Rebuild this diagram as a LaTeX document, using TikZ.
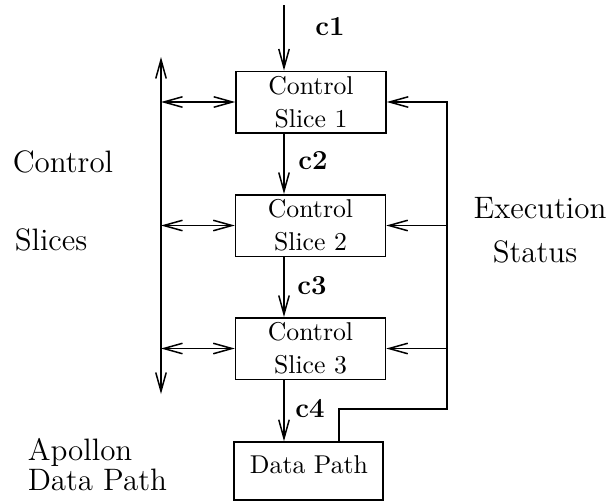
\documentclass[tikz,border=0pt]{standalone}
\usetikzlibrary{arrows.meta}
\begin{document}
\begin{tikzpicture}[x=0.4pt,y=-0.4pt,
  line width=0.6pt,
  tip/.tip={Straight Barb[length=7.5pt,width=4.2pt,line width=0.6pt]},
  arr/.style={-tip},
  darr/.style={tip-tip},
  slicebox/.style={draw,rectangle,minimum width=60pt,minimum height=24.6pt,inner sep=0pt,align=center,
    font=\fontsize{10.3}{13.2}\selectfont},
  clabel/.style={font=\bfseries\fontsize{11}{13}\selectfont},
  side/.style={font=\fontsize{12.4}{14}\selectfont,inner sep=0pt}]
  \useasboundingbox (0,0) rectangle (613,501);

  % control slices and data path
  \node[slicebox] (s1) at (311,102) {Control\\Slice 1};
  \node[slicebox] (s2) at (310.5,225.5) {Control\\Slice 2};
  \node[slicebox] (s3) at (310.5,348.5) {Control\\Slice 3};
  \node[slicebox,minimum width=59.6pt,minimum height=23.2pt] (dp) at (308.5,471) {};
  \node[font=\fontsize{10.3}{13.2}\selectfont] (dpt) at (309,465) {Data Path};

  % helper coordinates
  \coordinate (col) at (284,5);
  \coordinate (bt) at (161,57);
  \coordinate (bb) at (161,394);
  \coordinate (tap) at (339,0);
  \coordinate (fb) at (447,409);

  % control signal chain
  \draw[arr] (col) -- (col |- s1.north);
  \draw[arr] (col |- s1.south) -- (col |- s2.north);
  \draw[arr] (col |- s2.south) -- (col |- s3.north);
  \draw[arr] (col |- s3.south) -- (col |- dp.north);

  % vertical bus on the left
  \draw[darr] (bb) -- (bt);
  \draw[darr] (s1.west -| bt) -- (s1.west);
  \draw[darr] (s2.west -| bt) -- (s2.west);
  \draw[darr] (s3.west -| bt) -- (s3.west);

  % execution status feedback
  \draw[arr] (tap |- dp.north) |- (fb) |- (s1.east);
  \draw[arr] (s2.east -| fb) -- (s2.east);
  \draw[arr] (s3.east -| fb) -- (s3.east);

  % signal labels
  \node[clabel] (c1) at (330,27) {c1};
  \node[clabel] (c2) at (313,161) {c2};
  \node[clabel] (c3) at (312,286) {c3};
  \node[clabel] (c4) at (310,409) {c4};

  % side labels
  \node[side,anchor=west] (lc) at (12,162) {Control};
  \node[side,anchor=west] (ls) at (14,240) {Slices};
  \node[side] (le) at (540,208) {Execution};
  \node[side] (lst) at (535,252) {Status};
  \node[side,anchor=west] (la) at (27,452) {Apollon};
  \node[side,anchor=west] (ld) at (27,480) {Data Path};
\end{tikzpicture}
\end{document}
